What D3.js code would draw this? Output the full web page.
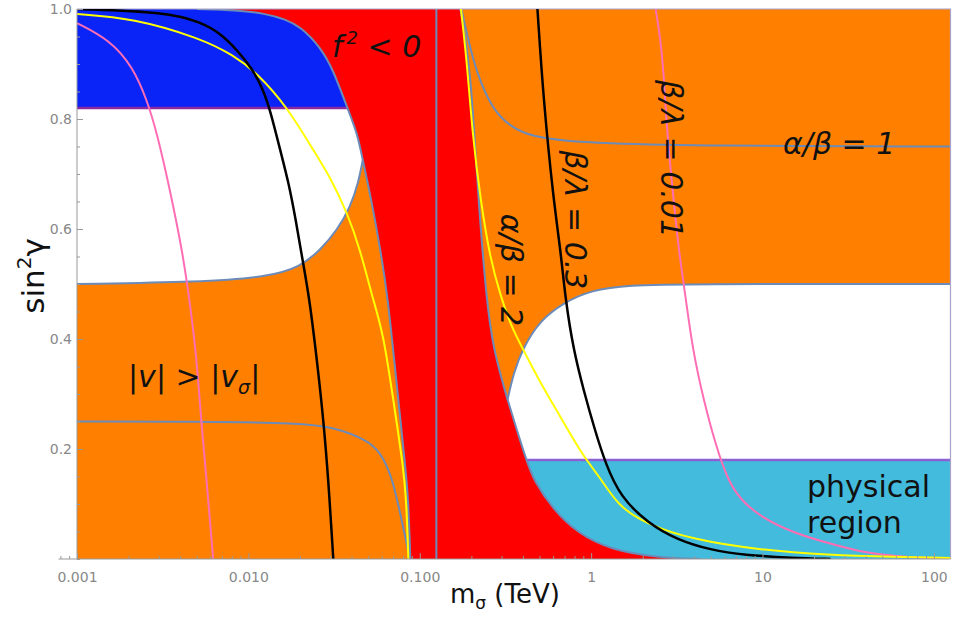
<!DOCTYPE html>
<html lang="en">
<head>
<meta charset="UTF-8">
<title>sin2 gamma vs m_sigma</title>
<script src="https://cdn.jsdelivr.net/npm/d3@7"></script>
<style>
    body { margin: 0; background: #fff; }
    svg { display: block; font-family: "DejaVu Sans", sans-serif; }
    .axis text { fill: #888; font-size: 14px; font-family: "DejaVu Sans", sans-serif; }
    .axis line { stroke: #999; }
    .lbl { fill: #111; font-size: 30px; }
</style>
</head>
<body>
<svg width="953" height="619"></svg>
<script>
// all points are [m_sigma (TeV), sin^2 gamma]
var redLeft = [[0.005, 1.0], [0.0085, 0.998], [0.0125, 0.992], [0.0165, 0.981], [0.0201, 0.968], [0.0263, 0.931],
    [0.0313, 0.889], [0.0378, 0.82], [0.0432, 0.7745], [0.0465, 0.725], [0.0522, 0.653], [0.0589, 0.562],
    [0.0647, 0.484], [0.0750, 0.289], [0.0824, 0.167], [0.0858, 0.107], [0.0881, 0]];
var whiteLeftLow = [[0.001, 0.5], [0.00523, 0.5036], [0.0129, 0.5127], [0.0201, 0.531], [0.0263, 0.562],
    [0.033, 0.598], [0.0393, 0.64], [0.0438, 0.6836], [0.0465, 0.725]];
var quarterLeft = [[0.001, 0.25], [0.0052, 0.25], [0.0201, 0.2473], [0.0313, 0.24], [0.0494, 0.2164],
    [0.0589, 0.1927], [0.0647, 0.1673], [0.0692, 0.1436], [0.077, 0.0836], [0.0875, 0]];
var redRight = [[0.1726, 1.0], [0.1897, 0.9255], [0.2028, 0.8345], [0.2199, 0.6527], [0.2449, 0.4709],
    [0.2691, 0.38], [0.3249, 0.289], [0.418, 0.18], [0.4609, 0.1436], [0.6031, 0.0891], [0.8328, 0.0473],
    [1.298, 0.0164], [2.543, 0.0018], [4.36, 0]];
var whiteRightTop = [[0.3249, 0.289], [0.3522, 0.3382], [0.4027, 0.3855], [0.5063, 0.4345], [0.6901, 0.4655],
    [0.992, 0.489], [1.699, 0.498], [3.33, 0.5], [125, 0.5]];
var alphaBeta1 = [[0.175, 1.0], [0.1975, 0.9255], [0.226, 0.8655], [0.2691, 0.8164], [0.3382, 0.7855],
    [0.4609, 0.767], [0.7278, 0.76], [1.135, 0.7564], [4.36, 0.751], [125, 0.75]];
var mHiggs = 0.125;
var blueCut = 0.82, cyanCut = 0.18;

var yellowLeft = [[0.001, 0.991], [0.00212, 0.9836], [0.00523, 0.947], [0.00815, 0.9164], [0.01126, 0.8836],
    [0.01685, 0.8218], [0.0239, 0.7436], [0.03, 0.6945], [0.0378, 0.629], [0.045, 0.5618], [0.0528, 0.4764],
    [0.0613, 0.4109], [0.0701, 0.289], [0.0802, 0.1673], [0.0835, 0.1073], [0.0858, 0]];
var blackLeft = [[0.001, 1.0], [0.00336, 0.9945], [0.00523, 0.9764], [0.00684, 0.9564], [0.0086, 0.9255],
    [0.01067, 0.889], [0.0122, 0.8527], [0.0134, 0.8164], [0.01533, 0.7436], [0.0173, 0.68], [0.0189, 0.6164],
    [0.0207, 0.5436], [0.0228, 0.4709], [0.0255, 0.3436], [0.0274, 0.2527], [0.0293, 0.1436], [0.0313, 0]];
var pinkLeft = [[0.001, 0.9745], [0.00156, 0.9436], [0.00212, 0.8945], [0.00256, 0.8345], [0.00293, 0.7745],
    [0.00349, 0.6709], [0.0041, 0.5618], [0.00439, 0.5018], [0.00495, 0.38], [0.00528, 0.2582],
    [0.0057, 0.1436], [0.00623, 0]];
var yellowRight = [[0.174, 1.0], [0.1897, 0.8945], [0.2028, 0.7745], [0.226, 0.6527], [0.2585, 0.5436],
    [0.2956, 0.48], [0.3382, 0.4255], [0.4027, 0.38], [0.5063, 0.32], [0.663, 0.2582], [0.903, 0.1855],
    [1.135, 0.1473], [1.426, 0.0982], [2.023, 0.0655], [3.964, 0.0345], [9.76, 0.0164], [24.0, 0.0073],
    [58.4, 0.0036], [125, 0.0018]];
var blackRight = [[0.486, 1.0], [0.527, 0.8345], [0.603, 0.6527], [0.663, 0.5618], [0.709, 0.4709],
    [0.789, 0.38], [0.903, 0.3073], [1.05, 0.235], [1.22, 0.171], [1.485, 0.113], [2.135, 0.0655],
    [3.197, 0.0345], [4.98, 0.0164], [7.77, 0.0073], [15.2, 0.0018], [25, 0]];
var pinkRight = [[2.378, 1.0], [2.543, 0.9436], [2.648, 0.8836], [2.795, 0.7618], [2.989, 0.6709],
    [3.24, 0.5618], [3.513, 0.4891], [3.911, 0.38], [4.534, 0.289], [5.329, 0.2073], [6.262, 0.1436],
    [7.46, 0.1073], [9.76, 0.0764], [15.2, 0.0473], [24.0, 0.0291], [37.5, 0.0127], [58.4, 0.0055],
    [92.3, 0.0018], [125, 0.001]];

var xTicks = [0.001, 0.01, 0.1, 1, 10, 100];
var xTickLabels = ["0.001", "0.010", "0.100", "1", "10", "100"];
var yTicks = [0.2, 0.4, 0.6, 0.8, 1.0];
var yTickLabels = ["0.2", "0.4", "0.6", "0.8", "1.0"];

var svg = d3.select("svg");
var xMin = 0.001, xMax = 125;
var x = d3.scaleLog().domain([xMin, xMax]).range([77, 950.5]);
var y = d3.scaleLinear().domain([0, 1]).range([559, 9]);
var line = d3.line()
        .x(function (d) { return x(d[0]); })
        .y(function (d) { return y(d[1]); })
        .curve(d3.curveBasis);
function pt(m, s) { return "L" + x(m) + "," + y(s); }

var colOrange = "#ff8000", colRed = "#ff0000", colBlue = "#0a24f8", colCyan = "#43bbdd",
    colEdge = "#6c8bb8", colPurpleTop = "#8b2a9e", colPurpleBot = "#8d5fd4";

var defs = svg.append("defs");
defs.append("clipPath").attr("id", "clipPlot").append("rect")
        .attr("x", x(xMin)).attr("y", y(1)).attr("width", x(xMax) - x(xMin)).attr("height", y(0) - y(1));
defs.append("clipPath").attr("id", "clipL").append("path")
        .attr("d", line(redLeft) + pt(xMin, 0) + pt(xMin, 1) + "Z");
defs.append("clipPath").attr("id", "clipR").append("path")
        .attr("d", line(redRight) + pt(xMax, 0) + pt(xMax, 1) + "Z");

// f^2 < 0 band as background
svg.append("rect").attr("x", x(xMin)).attr("y", y(1))
        .attr("width", x(xMax) - x(xMin)).attr("height", y(0) - y(1)).attr("fill", colRed);

function band(g, s0, s1, col) {
    g.append("rect").attr("x", x(xMin)).attr("width", x(xMax) - x(xMin))
            .attr("y", y(s1)).attr("height", y(s0) - y(s1)).attr("fill", col);
}

// left side regions
var gl = svg.append("g").attr("clip-path", "url(#clipL)");
band(gl, 0, 1, colOrange);
band(gl, blueCut, 1, colBlue);
band(gl, 0.5, blueCut, "#fff");
gl.append("path").attr("fill", colOrange)
        .attr("d", line(whiteLeftLow) + pt(1, 0.725) + pt(1, 0) + pt(xMin, 0) + "Z");
gl.append("line").attr("x1", x(xMin)).attr("x2", x(xMax)).attr("y1", y(blueCut)).attr("y2", y(blueCut))
        .attr("stroke", colPurpleTop).attr("stroke-width", 2.5);

// right side regions
var gr = svg.append("g").attr("clip-path", "url(#clipR)");
band(gr, 0, 1, colOrange);
band(gr, 0, cyanCut, colCyan);
gr.append("path").attr("fill", "#fff")
        .attr("d", line(whiteRightTop) + pt(xMax, cyanCut) + pt(0.2, cyanCut) + pt(0.2, 0.289) + "Z");
gr.append("line").attr("x1", x(xMin)).attr("x2", x(xMax)).attr("y1", y(cyanCut)).attr("y2", y(cyanCut))
        .attr("stroke", colPurpleBot).attr("stroke-width", 2.5);

// boundaries
var gb = svg.append("g").attr("clip-path", "url(#clipPlot)").attr("fill", "none")
        .attr("stroke", colEdge).attr("stroke-width", 2);
[redLeft, whiteLeftLow, quarterLeft, redRight, whiteRightTop, alphaBeta1].forEach(function (c) {
    gb.append("path").attr("d", line(c));
});
gb.append("line").attr("x1", x(mHiggs)).attr("x2", x(mHiggs)).attr("y1", y(0)).attr("y2", y(1));
svg.append("path").attr("fill", "none").attr("stroke", "#aaa3cc").attr("stroke-width", 1.2)
        .attr("d", "M" + x(xMin) + "," + y(1) + "H" + x(xMax) + "V" + y(0));

// curves
var gc = svg.append("g").attr("clip-path", "url(#clipPlot)").attr("fill", "none");
[[pinkLeft, "#ff6eb4", 2], [pinkRight, "#ff6eb4", 2], [yellowLeft, "#ffff00", 2], [yellowRight, "#ffff00", 2],
    [blackLeft, "#000", 2.5], [blackRight, "#000", 2.5]].forEach(function (c) {
    gc.append("path").attr("d", line(c[0])).attr("stroke", c[1]).attr("stroke-width", c[2]);
});

// axes
var xa = x.copy().domain([0.00078, xMax]).range([x(0.00078), x(xMax)]);
var xMinor = xa.ticks().filter(function (d) { return xTicks.indexOf(d) < 0; });
svg.append("line").attr("x1", x(0.00078)).attr("x2", x(xMax)).attr("y1", y(0)).attr("y2", y(0))
        .attr("stroke", "#999");
svg.append("line").attr("x1", x(xMin)).attr("x2", x(xMin)).attr("y1", y(0)).attr("y2", y(1))
        .attr("stroke", "#999");
svg.append("g").attr("class", "axis").attr("transform", "translate(0," + y(0) + ")")
        .call(d3.axisBottom(xa).tickValues(xMinor).tickSize(-3).tickFormat(""))
        .call(function (g) { g.select(".domain").remove(); });
svg.append("g").attr("class", "axis").attr("transform", "translate(0," + y(0) + ")")
        .call(d3.axisBottom(xa).tickValues(xTicks).tickSize(-6).tickPadding(13)
                .tickFormat(function (d, i) { return xTickLabels[i]; }))
        .call(function (g) { g.select(".domain").remove(); });
svg.append("g").attr("class", "axis").attr("transform", "translate(" + x(xMin) + ",0)")
        .call(d3.axisLeft(y).tickValues(d3.range(0, 1.001, 0.05)).tickSize(-3).tickFormat(""))
        .call(function (g) { g.select(".domain").remove(); });
svg.append("g").attr("class", "axis").attr("transform", "translate(" + x(xMin) + ",0)")
        .call(d3.axisLeft(y).tickValues(yTicks).tickSize(-6).tickPadding(5)
                .tickFormat(function (d, i) { return yTickLabels[i]; }))
        .call(function (g) { g.select(".domain").remove(); });

// axis titles
var yl = svg.append("text").attr("transform", "translate(44,276) rotate(-90)")
        .attr("text-anchor", "middle").attr("font-size", 31).attr("fill", "#111");
yl.append("tspan").text("sin");
yl.append("tspan").attr("dy", -13).attr("font-size", 20).text("2");
yl.append("tspan").attr("dy", 13).text("γ");
var xl = svg.append("text").attr("x", 450).attr("y", 603).attr("font-size", 26).attr("fill", "#111");
xl.append("tspan").text("m");
xl.append("tspan").attr("dy", 6).attr("font-size", 17).text("σ");
xl.append("tspan").attr("dy", -6).text(" (TeV)");

// labels in the plot
var f2 = svg.append("text").attr("class", "lbl").attr("x", 332).attr("y", 57).attr("font-style", "italic");
f2.append("tspan").text("f");
f2.append("tspan").attr("dx", 4).attr("dy", -13).attr("font-size", 18).text("2");
f2.append("tspan").attr("dy", 13).text(" < 0");

var vv = svg.append("text").attr("class", "lbl").attr("x", 128).attr("y", 387);
vv.append("tspan").text("|");
vv.append("tspan").attr("font-style", "italic").text("v");
vv.append("tspan").text("| > |");
vv.append("tspan").attr("font-style", "italic").text("v");
vv.append("tspan").attr("font-style", "italic").attr("font-size", 19).attr("dy", 7).text("σ");
vv.append("tspan").attr("dy", -7).text("|");

svg.append("text").attr("class", "lbl").attr("x", 783).attr("y", 154).attr("font-style", "italic").text("α/β = 1");
svg.append("text").attr("class", "lbl").attr("x", 807).attr("y", 497).text("physical");
svg.append("text").attr("class", "lbl").attr("x", 807).attr("y", 533).text("region");

[["α/β = 2", 501, 270], ["β/λ = 0.3", 565, 220], ["β/λ = 0.01", 661, 159]].forEach(function (t) {
    svg.append("text").attr("class", "lbl").attr("font-style", "italic").attr("text-anchor", "middle")
            .attr("transform", "translate(" + t[1] + "," + t[2] + ") rotate(90)").text(t[0]);
});
</script>
</body>
</html>
